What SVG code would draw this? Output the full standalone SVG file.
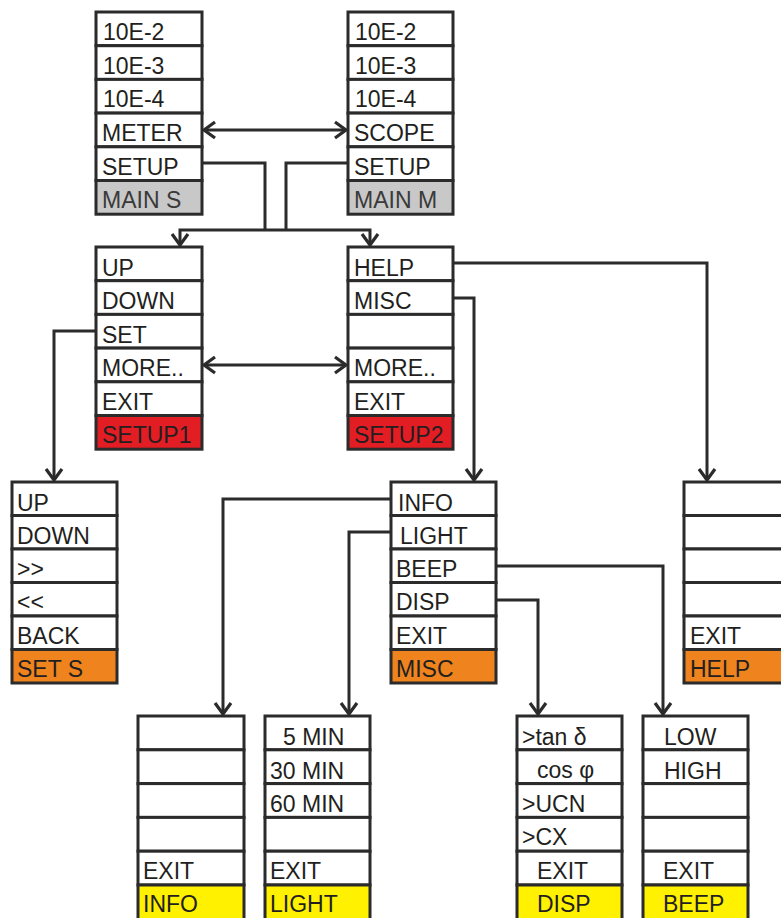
<svg xmlns="http://www.w3.org/2000/svg" width="781" height="918" viewBox="0 0 781 918">
<style>
  .row{fill:#ffffff;stroke:#2b2b2b;stroke-width:3}
  .gray{fill:#c8c8c8}
  .red{fill:#e21d24}
  .orange{fill:#ef831e}
  .yellow{fill:#fff100}
  text{font-family:"Liberation Sans",Arial,sans-serif;font-size:23px;fill:#231f20}
  .conn{fill:none;stroke:#2b2b2b;stroke-width:3}
</style>
<defs>
  <marker id="arr" markerUnits="userSpaceOnUse" markerWidth="30" markerHeight="30" viewBox="-15 -15 30 30" refX="0" refY="0" orient="auto-start-reverse">
    <path d="M-11,-8 L0,0 L-11,8" fill="none" stroke="#2b2b2b" stroke-width="3.2"/>
  </marker>
</defs>

<g id="connectors">
  <path class="conn" d="M204,130 H346" marker-start="url(#arr)" marker-end="url(#arr)"/>
  <path class="conn" d="M204,365 H346" marker-start="url(#arr)" marker-end="url(#arr)"/>
  <path class="conn" d="M202,163 H265 V230"/>
  <path class="conn" d="M348,163 H286 V230"/>
  <path class="conn" d="M180,245 V230 H370 V245" marker-start="url(#arr)" marker-end="url(#arr)"/>
  <path class="conn" d="M96,331 H54 V480" marker-end="url(#arr)"/>
  <path class="conn" d="M453,263 H707 V480" marker-end="url(#arr)"/>
  <path class="conn" d="M453,298 H474 V480" marker-end="url(#arr)"/>
  <path class="conn" d="M391,499 H223 V714" marker-end="url(#arr)"/>
  <path class="conn" d="M391,532 H349 V714" marker-end="url(#arr)"/>
  <path class="conn" d="M496,566 H663 V714" marker-end="url(#arr)"/>
  <path class="conn" d="M496,600 H538 V714" marker-end="url(#arr)"/>
</g>

<g id="main-s">
  <rect class="row" x="96" y="12" width="106" height="33.7"/>
  <rect class="row" x="96" y="45.7" width="106" height="33.7"/>
  <rect class="row" x="96" y="79.4" width="106" height="33.7"/>
  <rect class="row" x="96" y="113.1" width="106" height="33.7"/>
  <rect class="row" x="96" y="146.8" width="106" height="33.7"/>
  <rect class="row gray" x="96" y="180.5" width="106" height="33.7"/>
  <text x="103" y="40">10E-2</text>
  <text x="103" y="74">10E-3</text>
  <text x="103" y="107">10E-4</text>
  <text x="102" y="141">METER</text>
  <text x="102" y="175">SETUP</text>
  <text x="102" y="208" style="fill:#3a3a3a">MAIN S</text>
</g>

<g id="main-m">
  <rect class="row" x="348" y="12" width="105" height="33.7"/>
  <rect class="row" x="348" y="45.7" width="105" height="33.7"/>
  <rect class="row" x="348" y="79.4" width="105" height="33.7"/>
  <rect class="row" x="348" y="113.1" width="105" height="33.7"/>
  <rect class="row" x="348" y="146.8" width="105" height="33.7"/>
  <rect class="row gray" x="348" y="180.5" width="105" height="33.7"/>
  <text x="355" y="40">10E-2</text>
  <text x="355" y="74">10E-3</text>
  <text x="355" y="107">10E-4</text>
  <text x="354" y="141">SCOPE</text>
  <text x="354" y="175">SETUP</text>
  <text x="354" y="208" style="fill:#3a3a3a">MAIN M</text>
</g>

<g id="setup1">
  <rect class="row" x="96" y="247" width="106" height="33.7"/>
  <rect class="row" x="96" y="280.7" width="106" height="33.7"/>
  <rect class="row" x="96" y="314.4" width="106" height="33.7"/>
  <rect class="row" x="96" y="348.1" width="106" height="33.7"/>
  <rect class="row" x="96" y="381.8" width="106" height="33.7"/>
  <rect class="row red" x="96" y="415.5" width="106" height="33.7"/>
  <text x="102" y="276">UP</text>
  <text x="102" y="309">DOWN</text>
  <text x="102" y="343">SET</text>
  <text x="102" y="376">MORE..</text>
  <text x="102" y="410">EXIT</text>
  <text x="102" y="443">SETUP1</text>
</g>

<g id="setup2">
  <rect class="row" x="348" y="247" width="105" height="33.7"/>
  <rect class="row" x="348" y="280.7" width="105" height="33.7"/>
  <rect class="row" x="348" y="314.4" width="105" height="33.7"/>
  <rect class="row" x="348" y="348.1" width="105" height="33.7"/>
  <rect class="row" x="348" y="381.8" width="105" height="33.7"/>
  <rect class="row red" x="348" y="415.5" width="105" height="33.7"/>
  <text x="354" y="276">HELP</text>
  <text x="354" y="309">MISC</text>
  <text x="354" y="376">MORE..</text>
  <text x="354" y="410">EXIT</text>
  <text x="354" y="443">SETUP2</text>
</g>

<g id="set-s">
  <rect class="row" x="12" y="482" width="105" height="33.5"/>
  <rect class="row" x="12" y="515.5" width="105" height="33.5"/>
  <rect class="row" x="12" y="549" width="105" height="33.5"/>
  <rect class="row" x="12" y="582.5" width="105" height="33.5"/>
  <rect class="row" x="12" y="616" width="105" height="33.5"/>
  <rect class="row orange" x="12" y="649.5" width="105" height="33.5"/>
  <text x="17" y="511">UP</text>
  <text x="17" y="544">DOWN</text>
  <text x="17" y="577">&gt;&gt;</text>
  <text x="17" y="610">&lt;&lt;</text>
  <text x="17" y="644">BACK</text>
  <text x="17" y="677">SET S</text>
</g>

<g id="misc">
  <rect class="row" x="391" y="482" width="105" height="33.5"/>
  <rect class="row" x="391" y="515.5" width="105" height="33.5"/>
  <rect class="row" x="391" y="549" width="105" height="33.5"/>
  <rect class="row" x="391" y="582.5" width="105" height="33.5"/>
  <rect class="row" x="391" y="616" width="105" height="33.5"/>
  <rect class="row orange" x="391" y="649.5" width="105" height="33.5"/>
  <text x="398" y="511">INFO</text>
  <text x="400" y="544">LIGHT</text>
  <text x="396" y="577">BEEP</text>
  <text x="396" y="610">DISP</text>
  <text x="396" y="644">EXIT</text>
  <text x="396" y="677">MISC</text>
</g>

<g id="help">
  <rect class="row" x="684" y="482" width="110" height="33.5"/>
  <rect class="row" x="684" y="515.5" width="110" height="33.5"/>
  <rect class="row" x="684" y="549" width="110" height="33.5"/>
  <rect class="row" x="684" y="582.5" width="110" height="33.5"/>
  <rect class="row" x="684" y="616" width="110" height="33.5"/>
  <rect class="row orange" x="684" y="649.5" width="110" height="33.5"/>
  <text x="690" y="644">EXIT</text>
  <text x="690" y="677">HELP</text>
</g>

<g id="info">
  <rect class="row" x="138" y="716" width="106" height="33.8"/>
  <rect class="row" x="138" y="749.8" width="106" height="33.8"/>
  <rect class="row" x="138" y="783.6" width="106" height="33.8"/>
  <rect class="row" x="138" y="817.4" width="106" height="33.8"/>
  <rect class="row" x="138" y="851.2" width="106" height="33.8"/>
  <rect class="row yellow" x="138" y="885" width="106" height="36"/>
  <text x="143" y="879">EXIT</text>
  <text x="143" y="912">INFO</text>
</g>

<g id="light">
  <rect class="row" x="265" y="716" width="105" height="33.8"/>
  <rect class="row" x="265" y="749.8" width="105" height="33.8"/>
  <rect class="row" x="265" y="783.6" width="105" height="33.8"/>
  <rect class="row" x="265" y="817.4" width="105" height="33.8"/>
  <rect class="row" x="265" y="851.2" width="105" height="33.8"/>
  <rect class="row yellow" x="265" y="885" width="105" height="36"/>
  <text x="283" y="745">5 MIN</text>
  <text x="270" y="779">30 MIN</text>
  <text x="270" y="812">60 MIN</text>
  <text x="270" y="879">EXIT</text>
  <text x="270" y="912">LIGHT</text>
</g>

<g id="disp">
  <rect class="row" x="517" y="716" width="105" height="33.8"/>
  <rect class="row" x="517" y="749.8" width="105" height="33.8"/>
  <rect class="row" x="517" y="783.6" width="105" height="33.8"/>
  <rect class="row" x="517" y="817.4" width="105" height="33.8"/>
  <rect class="row" x="517" y="851.2" width="105" height="33.8"/>
  <rect class="row yellow" x="517" y="885" width="105" height="36"/>
  <text x="522" y="745">&gt;tan δ</text>
  <text x="537" y="778">cos φ</text>
  <text x="522" y="812">&gt;UCN</text>
  <text x="522" y="845">&gt;CX</text>
  <text x="537" y="879">EXIT</text>
  <text x="537" y="912">DISP</text>
</g>

<g id="beep">
  <rect class="row" x="643" y="716" width="105" height="33.8"/>
  <rect class="row" x="643" y="749.8" width="105" height="33.8"/>
  <rect class="row" x="643" y="783.6" width="105" height="33.8"/>
  <rect class="row" x="643" y="817.4" width="105" height="33.8"/>
  <rect class="row" x="643" y="851.2" width="105" height="33.8"/>
  <rect class="row yellow" x="643" y="885" width="105" height="36"/>
  <text x="664" y="745">LOW</text>
  <text x="664" y="779">HIGH</text>
  <text x="663" y="879">EXIT</text>
  <text x="663" y="912">BEEP</text>
</g>
</svg>
